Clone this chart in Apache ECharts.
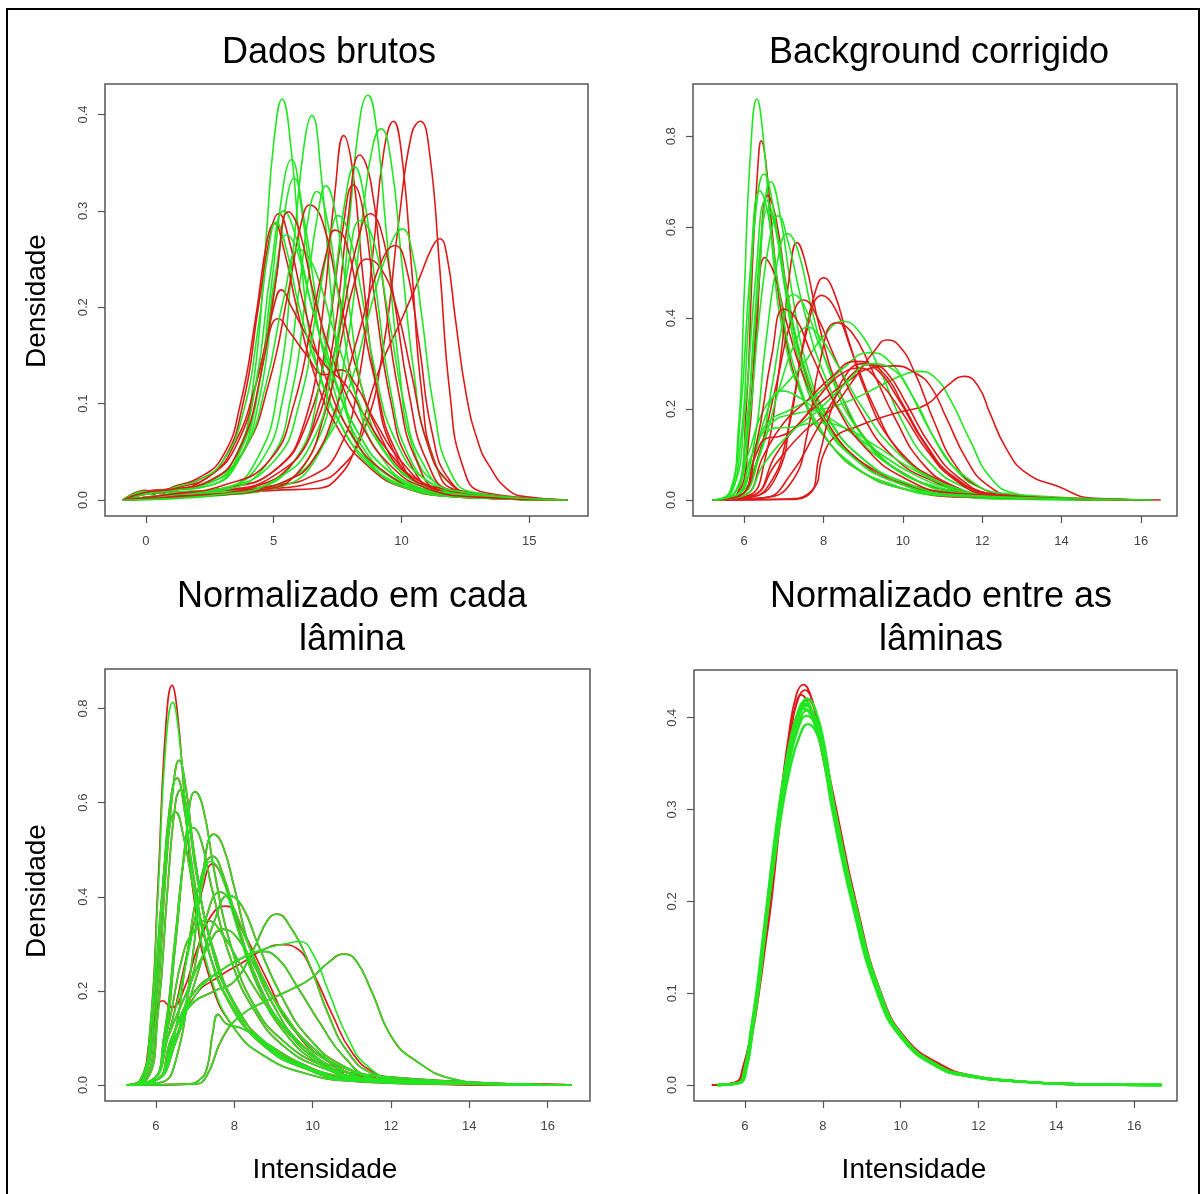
<!DOCTYPE html>
<html>
<head>
<meta charset="utf-8">
<script src="https://cdn.jsdelivr.net/npm/echarts@6/dist/echarts.min.js"></script>
<style>
html,body{margin:0;padding:0;background:#fff;}
#c{width:1203px;height:1194px;}
</style>
</head>
<body>
<div id="c"></div>
<script>
// ---------- DATA ----------
const panelTitles = ["Dados brutos", "Background corrigido", "Normalizado em cada\nlâmina", "Normalizado entre as\nlâminas"];
const yAxisName = "Densidade";
const xAxisName = "Intensidade";

const p1XTicks = [0, 5, 10, 15];
const p1YTicks = [0, 0.1, 0.2, 0.3, 0.4];
const p2XTicks = [6, 8, 10, 12, 14, 16];
const p2YTicks = [0, 0.2, 0.4, 0.6, 0.8];
const p3XTicks = [6, 8, 10, 12, 14, 16];
const p3YTicks = [0, 0.2, 0.4, 0.6, 0.8];
const p4XTicks = [6, 8, 10, 12, 14, 16];
const p4YTicks = [0, 0.1, 0.2, 0.3, 0.4];

// Panel 1: Dados brutos
const p1Red = [
 [[-0.9,0],[0,0.006],[1,0.008],[3,0.01],[5,0.012],[6.5,0.018],[7.5,0.03],[8.5,0.07],[9.3,0.16],[9.9,0.29],[10.4,0.38],[10.74,0.393],[11.1,0.36],[11.5,0.24],[11.9,0.11],[12.4,0.035],[13.2,0.008],[16.5,0]],
 [[-0.9,0],[1,0.005],[3,0.01],[5,0.015],[6.5,0.025],[7.5,0.05],[8.3,0.12],[8.9,0.26],[9.3,0.36],[9.69,0.393],[10,0.36],[10.4,0.24],[10.8,0.11],[11.3,0.04],[12.2,0.01],[16.5,0]],
 [[-0.9,0],[1,0.006],[3,0.012],[5,0.03],[6.2,0.08],[6.9,0.19],[7.4,0.32],[7.74,0.378],[8.1,0.34],[8.5,0.23],[9,0.12],[9.7,0.05],[10.8,0.015],[12.5,0.003],[16.5,0]],
 [[-0.9,0],[1,0.006],[3,0.01],[5,0.025],[6.5,0.07],[7.3,0.16],[7.9,0.29],[8.37,0.358],[8.8,0.33],[9.3,0.22],[9.9,0.11],[10.6,0.04],[11.6,0.01],[16.5,0]],
 [[-0.9,0],[1,0.004],[3,0.006],[5,0.01],[6.7,0.012],[7.5,0.023],[8.2,0.054],[8.7,0.1],[9.2,0.14],[10,0.187],[10.7,0.23],[11.2,0.262],[11.5,0.271],[11.8,0.25],[12.1,0.19],[12.55,0.107],[13,0.06],[13.4,0.037],[14.2,0.01],[15,0.003],[16.5,0]],
 [[-0.9,0],[1,0.006],[3,0.012],[5,0.03],[6.3,0.08],[7.1,0.17],[7.7,0.28],[8.12,0.327],[8.5,0.3],[9,0.2],[9.6,0.1],[10.3,0.04],[11.5,0.01],[16.5,0]],
 [[-0.9,0],[0,0.008],[1,0.01],[2.5,0.02],[3.8,0.05],[4.8,0.12],[5.6,0.22],[6.1,0.29],[6.42,0.306],[6.9,0.29],[7.5,0.22],[8.3,0.13],[9.2,0.065],[10.3,0.025],[12,0.006],[16.5,0]],
 [[-0.9,0],[0,0.01],[0.5,0.004],[1,0.013],[2,0.022],[3,0.045],[3.7,0.1],[4.3,0.19],[4.75,0.27],[5.02,0.287],[5.4,0.26],[5.9,0.2],[6.6,0.13],[7.5,0.075],[8.7,0.035],[10.2,0.012],[12.5,0.003],[16.5,0]],
 [[-0.9,0],[0,0.009],[1,0.012],[2,0.02],[3,0.04],[3.8,0.1],[4.4,0.2],[4.9,0.28],[5.19,0.297],[5.6,0.27],[6.2,0.2],[7,0.13],[8,0.07],[9.3,0.03],[11,0.01],[13,0.002],[16.5,0]],
 [[-0.9,0],[0,0.008],[1,0.01],[2.5,0.025],[3.6,0.06],[4.4,0.13],[5,0.2],[5.3,0.218],[5.7,0.2],[6.3,0.17],[7,0.14],[7.8,0.12],[8.5,0.09],[9.5,0.05],[10.8,0.018],[12.5,0.004],[16.5,0]],
 [[-0.9,0],[0,0.008],[1,0.012],[2.5,0.025],[3.5,0.06],[4.3,0.12],[4.9,0.18],[5.16,0.188],[5.6,0.175],[6.3,0.15],[7,0.13],[7.6,0.135],[8.2,0.12],[9,0.08],[10,0.04],[11.2,0.013],[13,0.003],[16.5,0]],
 [[-0.9,0],[2,0.005],[4,0.012],[5.8,0.04],[6.8,0.1],[7.6,0.18],[8.3,0.27],[8.79,0.297],[9.2,0.28],[9.7,0.21],[10.3,0.11],[11,0.04],[12,0.01],[16.5,0]],
 [[-0.9,0],[2,0.004],[4,0.01],[5.5,0.02],[6.5,0.04],[7.5,0.1],[8.3,0.17],[9.1,0.24],[9.76,0.264],[10.2,0.24],[10.7,0.16],[11.2,0.07],[11.9,0.02],[13,0.005],[16.5,0]],
 [[-0.9,0],[2,0.004],[4.5,0.01],[6,0.03],[7,0.09],[7.6,0.16],[8.1,0.22],[8.65,0.25],[9.2,0.24],[9.8,0.2],[10.4,0.13],[11,0.06],[11.8,0.02],[13,0.005],[16.5,0]],
 [[-0.9,0],[1,0.006],[3,0.015],[4.8,0.04],[5.8,0.1],[6.6,0.2],[7.1,0.26],[7.4,0.28],[7.8,0.27],[8.3,0.21],[9,0.12],[9.8,0.05],[11,0.015],[16.5,0]],
 [[-0.9,0],[0,0.008],[1,0.011],[2.5,0.02],[3.6,0.05],[4.5,0.13],[5.1,0.23],[5.58,0.299],[6,0.28],[6.6,0.21],[7.4,0.14],[8.4,0.08],[9.6,0.035],[11,0.012],[13,0.003],[16.5,0]]
];
const p1Green = [
 [[-0.9,0],[0,0.008],[1,0.01],[2.5,0.015],[3.5,0.04],[4.2,0.12],[4.7,0.27],[5,0.37],[5.33,0.416],[5.7,0.36],[6.1,0.24],[6.6,0.15],[7.5,0.085],[8.5,0.045],[10,0.015],[12,0.004],[16.5,0]],
 [[-0.9,0],[0,0.006],[1,0.008],[3,0.012],[4.3,0.04],[5.2,0.12],[5.8,0.27],[6.2,0.37],[6.49,0.399],[6.85,0.34],[7.3,0.2],[7.8,0.1],[8.6,0.045],[10,0.015],[12,0.004],[16.5,0]],
 [[-0.9,0],[1,0.005],[3,0.008],[5,0.015],[6.5,0.05],[7.4,0.14],[8,0.3],[8.4,0.4],[8.69,0.42],[9,0.39],[9.4,0.28],[9.9,0.14],[10.5,0.05],[11.5,0.015],[13,0.004],[16.5,0]],
 [[-0.9,0],[2,0.004],[5,0.012],[6.8,0.05],[7.8,0.15],[8.5,0.3],[8.9,0.37],[9.2,0.385],[9.6,0.35],[10,0.25],[10.5,0.13],[11,0.06],[12,0.015],[13.5,0.003],[16.5,0]],
 [[-0.9,0],[0,0.008],[1,0.01],[2.5,0.015],[3.5,0.035],[4.3,0.1],[4.9,0.22],[5.4,0.33],[5.69,0.353],[6.1,0.3],[6.6,0.2],[7.3,0.12],[8.2,0.06],[9.5,0.025],[11,0.008],[13,0.002],[16.5,0]],
 [[-0.9,0],[0,0.008],[1,0.011],[2.5,0.018],[3.6,0.04],[4.4,0.1],[5,0.21],[5.5,0.31],[5.79,0.334],[6.2,0.29],[6.8,0.19],[7.6,0.11],[8.6,0.05],[10,0.018],[12,0.005],[16.5,0]],
 [[-0.9,0],[1,0.006],[3,0.012],[4.5,0.04],[5.4,0.11],[6,0.22],[6.4,0.3],[6.69,0.32],[7.1,0.29],[7.6,0.2],[8.3,0.1],[9.2,0.045],[10.5,0.015],[12.5,0.004],[16.5,0]],
 [[-0.9,0],[1,0.005],[3,0.01],[4.8,0.04],[5.7,0.11],[6.3,0.22],[6.75,0.3],[7.04,0.326],[7.4,0.3],[7.9,0.21],[8.6,0.1],[9.5,0.045],[10.8,0.015],[12.5,0.004],[16.5,0]],
 [[-0.9,0],[2,0.004],[4,0.01],[5.8,0.04],[6.8,0.12],[7.4,0.23],[7.85,0.32],[8.16,0.346],[8.5,0.32],[9,0.22],[9.6,0.11],[10.3,0.045],[11.3,0.015],[13,0.003],[16.5,0]],
 [[-0.9,0],[3,0.005],[5.5,0.02],[7,0.06],[8,0.12],[8.8,0.2],[9.5,0.26],[10.04,0.281],[10.4,0.26],[10.8,0.19],[11.3,0.09],[11.9,0.03],[12.8,0.008],[16.5,0]],
 [[-0.9,0],[1,0.006],[3,0.012],[5,0.04],[6,0.1],[6.7,0.2],[7.2,0.27],[7.53,0.295],[7.9,0.28],[8.4,0.22],[9,0.13],[9.8,0.06],[11,0.02],[13,0.004],[16.5,0]],
 [[-0.9,0],[0,0.009],[0.5,0.003],[1,0.012],[2,0.02],[3,0.04],[3.8,0.09],[4.4,0.18],[4.8,0.26],[5.09,0.288],[5.5,0.26],[6,0.2],[6.8,0.13],[7.8,0.07],[9,0.03],[10.5,0.01],[12.5,0.003],[16.5,0]],
 [[-0.9,0],[0,0.008],[1,0.01],[2.5,0.02],[3.5,0.045],[4.3,0.12],[4.9,0.24],[5.4,0.3],[5.9,0.27],[6.5,0.2],[7.3,0.13],[8.3,0.07],[9.5,0.03],[11,0.01],[13,0.002],[16.5,0]],
 [[-0.9,0],[0,0.007],[1,0.01],[2.5,0.02],[3.8,0.05],[4.7,0.12],[5.4,0.21],[6,0.26],[6.6,0.24],[7.3,0.18],[8.2,0.11],[9.2,0.055],[10.5,0.02],[12,0.006],[16.5,0]],
 [[-0.9,0],[0,0.008],[1,0.011],[2.5,0.018],[3.6,0.045],[4.5,0.13],[5.1,0.24],[5.5,0.275],[5.9,0.26],[6.5,0.2],[7.3,0.13],[8.3,0.07],[9.5,0.03],[11,0.01],[16.5,0]],
 [[-0.9,0],[3,0.006],[5,0.02],[6.5,0.06],[7.3,0.14],[7.9,0.24],[8.4,0.29],[8.9,0.27],[9.5,0.19],[10.1,0.1],[10.8,0.04],[12,0.01],[16.5,0]]
];

// Panel 2: Background corrigido
const p2Red = [
 [[5.2,0],[5.8,0.01],[6.05,0.2],[6.2,0.5],[6.35,0.74],[6.43,0.79],[6.55,0.74],[6.75,0.55],[7,0.38],[7.5,0.22],[8.2,0.12],[9,0.06],[10,0.025],[11.5,0.006],[16.3,0]],
 [[5.2,0],[5.8,0.01],[6.1,0.15],[6.35,0.45],[6.6,0.67],[6.8,0.62],[7.1,0.45],[7.5,0.29],[8.1,0.17],[9,0.08],[10,0.035],[11.5,0.01],[16.3,0]],
 [[5.2,0],[5.85,0.01],[6.1,0.12],[6.3,0.35],[6.52,0.533],[6.75,0.5],[7.1,0.38],[7.6,0.25],[8.3,0.14],[9.2,0.07],[10.3,0.03],[12,0.006],[16.3,0]],
 [[5.2,0],[6.1,0.01],[6.5,0.08],[6.9,0.3],[7.15,0.5],[7.33,0.566],[7.55,0.52],[7.9,0.38],[8.4,0.24],[9.1,0.13],[10,0.06],[11.2,0.02],[13,0.004],[16.3,0]],
 [[5.2,0],[6,0.005],[6.6,0.03],[7.1,0.15],[7.5,0.35],[7.8,0.46],[8,0.489],[8.25,0.46],[8.6,0.36],[9.1,0.23],[9.7,0.13],[10.5,0.06],[11.5,0.02],[13,0.005],[16.3,0]],
 [[5.2,0],[6.1,0.005],[6.8,0.05],[7.2,0.2],[7.6,0.38],[7.96,0.45],[8.3,0.42],[8.7,0.33],[9.3,0.2],[10,0.1],[11,0.04],[12,0.012],[16.3,0]],
 [[5.2,0],[5.9,0.01],[6.3,0.08],[6.8,0.25],[7.2,0.4],[7.5,0.44],[7.8,0.41],[8.3,0.31],[8.9,0.2],[9.7,0.1],[10.8,0.04],[12,0.01],[16.3,0]],
 [[5.2,0],[6.5,0.005],[7.2,0.04],[7.6,0.15],[7.9,0.3],[8.32,0.39],[8.7,0.37],[9.2,0.29],[9.8,0.18],[10.5,0.08],[11.3,0.03],[12.3,0.008],[16.3,0]],
 [[5.2,0],[6.2,0.01],[6.8,0.08],[7.5,0.15],[8.2,0.2],[8.8,0.27],[9.3,0.33],[9.6,0.352],[9.9,0.34],[10.3,0.28],[10.8,0.17],[11.3,0.08],[11.9,0.03],[12.8,0.008],[16.3,0]],
 [[5.2,0],[6,0.01],[6.5,0.1],[7,0.17],[7.6,0.22],[8.2,0.27],[8.8,0.305],[9.3,0.29],[9.9,0.22],[10.5,0.13],[11.2,0.055],[12,0.018],[13,0.004],[16.3,0]],
 [[5.2,0],[6.2,0.01],[6.8,0.1],[7.4,0.17],[8,0.22],[8.6,0.26],[9.2,0.29],[9.8,0.295],[10.3,0.28],[10.7,0.25],[11.1,0.18],[11.6,0.09],[12.1,0.035],[12.8,0.01],[16.3,0]],
 [[5.2,0],[7,0.002],[7.7,0.02],[8,0.1],[8.3,0.14],[8.8,0.16],[9.4,0.18],[10,0.195],[10.6,0.21],[11.1,0.25],[11.56,0.272],[11.9,0.25],[12.2,0.19],[12.6,0.114],[13.1,0.06],[13.9,0.03],[14.8,0.004],[16.5,0]],
 [[5.2,0],[6.5,0.005],[7.2,0.06],[7.8,0.15],[8.4,0.24],[8.9,0.29],[9.2,0.298],[9.6,0.28],[10.1,0.21],[10.7,0.12],[11.4,0.05],[12.3,0.013],[16.3,0]],
 [[5.2,0],[7,0.001],[7.6,0.01],[7.9,0.1],[8.2,0.2],[8.6,0.28],[9,0.3],[9.5,0.28],[10,0.21],[10.6,0.12],[11.3,0.05],[12.3,0.012],[16.3,0]],
 [[5.2,0],[5.9,0.01],[6.3,0.1],[6.57,0.136],[6.9,0.14],[7.4,0.17],[8,0.24],[8.5,0.28],[8.9,0.29],[9.4,0.26],[10,0.19],[10.6,0.11],[11.3,0.045],[12.2,0.012],[16.3,0]],
 [[5.2,0],[5.9,0.01],[6.3,0.12],[6.7,0.32],[7,0.42],[7.3,0.4],[7.7,0.32],[8.3,0.21],[9,0.12],[10,0.05],[11.3,0.015],[16.3,0]]
];
const p2Green = [
 [[5.2,0],[5.6,0.01],[5.85,0.15],[6,0.45],[6.15,0.75],[6.32,0.882],[6.5,0.78],[6.7,0.56],[7,0.36],[7.5,0.22],[8.2,0.12],[9,0.06],[10,0.025],[11.5,0.007],[13,0.002],[16.3,0]],
 [[5.2,0],[5.6,0.01],[5.9,0.12],[6.1,0.38],[6.3,0.64],[6.5,0.717],[6.7,0.66],[7,0.48],[7.4,0.3],[8,0.17],[8.8,0.09],[9.8,0.04],[11,0.012],[13,0.002],[16.3,0]],
 [[5.2,0],[5.7,0.01],[6,0.1],[6.25,0.38],[6.5,0.64],[6.67,0.7],[6.9,0.63],[7.2,0.46],[7.6,0.29],[8.2,0.17],[9,0.09],[10,0.04],[11.5,0.01],[16.3,0]],
 [[5.2,0],[5.7,0.02],[6,0.18],[6.3,0.5],[6.55,0.66],[6.8,0.6],[7.1,0.45],[7.5,0.3],[8.1,0.18],[9,0.09],[10,0.04],[11.5,0.01],[16.3,0]],
 [[5.2,0],[5.8,0.01],[6.2,0.1],[6.55,0.35],[6.85,0.53],[7.09,0.586],[7.35,0.55],[7.7,0.42],[8.2,0.27],[8.9,0.15],[9.8,0.07],[11,0.025],[12.5,0.005],[16.3,0]],
 [[5.2,0],[5.8,0.01],[6.3,0.08],[6.7,0.25],[7,0.4],[7.24,0.452],[7.5,0.43],[7.9,0.34],[8.5,0.22],[9.2,0.12],[10.2,0.05],[11.5,0.015],[16.3,0]],
 [[5.2,0],[5.7,0.01],[6.1,0.1],[6.5,0.2],[7,0.25],[7.5,0.3],[8,0.36],[8.5,0.393],[8.9,0.37],[9.4,0.29],[10,0.17],[10.7,0.08],[11.5,0.03],[12.5,0.008],[16.3,0]],
 [[5.2,0],[5.8,0.01],[6.2,0.1],[6.6,0.17],[7.2,0.2],[7.8,0.23],[8.5,0.29],[9.15,0.324],[9.6,0.31],[10.1,0.25],[10.7,0.15],[11.3,0.07],[12,0.025],[13,0.006],[16.3,0]],
 [[5.2,0],[5.8,0.01],[6.2,0.1],[6.7,0.17],[7.3,0.19],[8,0.2],[8.7,0.22],[9.4,0.25],[10,0.275],[10.4,0.283],[10.8,0.27],[11.2,0.22],[11.7,0.13],[12.2,0.05],[12.8,0.015],[14,0.003],[16.3,0]],
 [[5.2,0],[5.8,0.01],[6.2,0.08],[6.6,0.2],[6.93,0.24],[7.3,0.23],[7.8,0.2],[8.5,0.16],[9.3,0.11],[10.2,0.06],[11.2,0.025],[12.5,0.006],[16.3,0]],
 [[5.2,0],[5.9,0.01],[6.3,0.08],[6.76,0.158],[7.2,0.16],[7.8,0.17],[8.5,0.16],[9.3,0.12],[10.2,0.07],[11.2,0.03],[12.5,0.008],[16.3,0]],
 [[5.2,0],[5.65,0.02],[5.9,0.18],[6.15,0.5],[6.4,0.68],[6.6,0.63],[6.9,0.45],[7.3,0.28],[7.9,0.16],[8.7,0.08],[9.7,0.035],[11,0.01],[16.3,0]],
 [[5.2,0],[5.8,0.02],[6.1,0.15],[6.4,0.42],[6.7,0.6],[6.85,0.625],[7.1,0.57],[7.5,0.42],[8,0.28],[8.7,0.16],[9.6,0.08],[10.8,0.03],[12.5,0.006],[16.3,0]],
 [[5.2,0],[5.9,0.01],[6.4,0.1],[6.9,0.25],[7.3,0.35],[7.6,0.38],[7.9,0.36],[8.4,0.29],[9,0.2],[9.8,0.11],[10.8,0.045],[12,0.012],[16.3,0]],
 [[5.2,0],[6,0.01],[6.5,0.08],[7.2,0.15],[7.9,0.2],[8.6,0.26],[9.2,0.3],[9.7,0.29],[10.3,0.22],[10.9,0.12],[11.6,0.05],[12.5,0.015],[16.3,0]],
 [[5.2,0],[5.75,0.015],[6.05,0.16],[6.35,0.46],[6.6,0.64],[6.78,0.6],[7.05,0.46],[7.45,0.3],[8,0.18],[8.8,0.09],[9.8,0.04],[11.2,0.012],[16.3,0]]
];

// Panel 3: Normalizado em cada lâmina (red and green curves nearly coincide)
const p3Shared = [
 [[5.25,0],[5.7,0.01],[6,0.15],[6.25,0.45],[6.45,0.64],[6.59,0.69],[6.75,0.64],[7,0.48],[7.4,0.3],[8,0.17],[8.8,0.09],[9.8,0.04],[11,0.012],[16.6,0]],
 [[5.25,0],[5.65,0.01],[5.95,0.15],[6.2,0.45],[6.4,0.62],[6.54,0.652],[6.7,0.6],[6.95,0.45],[7.3,0.3],[7.9,0.17],[8.7,0.09],[9.7,0.04],[11,0.012],[16.6,0]],
 [[5.25,0],[5.65,0.01],[5.9,0.15],[6.15,0.4],[6.35,0.55],[6.5,0.58],[6.7,0.53],[7,0.4],[7.4,0.27],[8,0.16],[8.8,0.08],[9.8,0.035],[11,0.01],[16.6,0]],
 [[5.25,0],[5.75,0.01],[6.05,0.15],[6.3,0.42],[6.5,0.6],[6.63,0.627],[6.8,0.58],[7.05,0.44],[7.5,0.28],[8.1,0.16],[8.9,0.08],[9.9,0.035],[11.2,0.01],[16.6,0]],
 [[5.25,0],[5.9,0.01],[6.2,0.08],[6.5,0.3],[6.8,0.55],[7,0.623],[7.2,0.59],[7.5,0.45],[7.9,0.3],[8.5,0.17],[9.3,0.09],[10.3,0.04],[11.5,0.012],[16.6,0]],
 [[5.25,0],[5.9,0.01],[6.2,0.1],[6.5,0.32],[6.75,0.5],[6.95,0.547],[7.15,0.52],[7.45,0.41],[7.9,0.27],[8.5,0.16],[9.3,0.08],[10.3,0.035],[11.5,0.01],[16.6,0]],
 [[5.25,0],[6.1,0.005],[6.5,0.05],[6.9,0.25],[7.2,0.45],[7.48,0.533],[7.7,0.51],[8,0.42],[8.4,0.29],[9,0.17],[9.8,0.08],[10.8,0.03],[12,0.008],[16.6,0]],
 [[5.25,0],[6,0.01],[6.4,0.08],[6.8,0.28],[7.15,0.44],[7.45,0.486],[7.7,0.45],[8.1,0.34],[8.6,0.22],[9.3,0.12],[10.2,0.05],[11.3,0.015],[16.6,0]],
 [[5.25,0],[6,0.01],[6.4,0.07],[6.9,0.22],[7.3,0.36],[7.64,0.41],[7.9,0.39],[8.3,0.31],[8.9,0.2],[9.6,0.11],[10.5,0.045],[11.6,0.012],[16.6,0]],
 [[5.25,0],[6,0.01],[6.5,0.09],[7,0.22],[7.5,0.35],[7.86,0.403],[8.2,0.38],[8.6,0.3],[9.2,0.19],[9.9,0.1],[10.8,0.04],[12,0.01],[16.6,0]],
 [[5.25,0],[6,0.01],[6.4,0.1],[6.9,0.17],[7.5,0.2],[8,0.22],[8.5,0.29],[8.85,0.35],[9.09,0.363],[9.4,0.34],[9.9,0.26],[10.4,0.15],[10.9,0.07],[11.5,0.025],[12.5,0.006],[16.6,0]],
 [[5.25,0],[5.9,0.01],[6.3,0.1],[6.8,0.2],[7.3,0.29],[7.72,0.331],[8.1,0.31],[8.6,0.24],[9.2,0.16],[10,0.08],[11,0.03],[12.3,0.008],[16.6,0]],
 [[5.25,0],[7,0.002],[7.3,0.02],[7.7,0.1],[8.2,0.15],[8.86,0.18],[9.5,0.205],[9.95,0.226],[10.4,0.26],[10.8,0.278],[11.1,0.265],[11.5,0.2],[12.03,0.1],[12.66,0.05],[13.57,0.013],[14.8,0.001],[16.6,0]],
 [[5.25,0],[6.8,0.002],[7.1,0.01],[7.3,0.035],[7.45,0.11],[7.59,0.15],[7.8,0.13],[8.2,0.12],[8.8,0.09],[9.6,0.05],[10.6,0.02],[12,0.005],[16.6,0]],
 [[5.25,0],[5.9,0.01],[6.3,0.12],[6.7,0.28],[7,0.33],[7.3,0.35],[7.7,0.32],[8.2,0.25],[8.9,0.16],[9.8,0.08],[11,0.025],[16.6,0]],
 [[5.25,0],[6,0.01],[6.5,0.12],[7,0.2],[7.6,0.24],[8.2,0.27],[8.67,0.284],[9.1,0.27],[9.6,0.21],[10.2,0.13],[10.8,0.06],[11.5,0.02],[16.6,0]]
];
const p3RedOnly = [
 [[5.25,0],[5.6,0.01],[5.85,0.12],[6.05,0.42],[6.25,0.76],[6.41,0.849],[6.55,0.79],[6.75,0.59],[7,0.38],[7.4,0.22],[8,0.12],[8.8,0.06],[9.8,0.025],[11,0.008],[13,0.002],[14.8,0]],
 [[5.25,0],[6,0.01],[6.5,0.1],[7,0.19],[7.6,0.23],[8.2,0.26],[8.8,0.29],[9.22,0.298],[9.6,0.29],[10,0.24],[10.5,0.15],[11,0.07],[11.6,0.025],[12.5,0.006],[14.8,0]],
 [[5.25,0],[5.6,0.01],[5.9,0.12],[6.18,0.179],[6.4,0.165],[6.7,0.2],[7.1,0.3],[7.5,0.37],[7.8,0.38],[8.2,0.33],[8.8,0.23],[9.5,0.12],[10.4,0.05],[11.5,0.015],[14.8,0]],
 [[5.25,0],[5.9,0.01],[6.3,0.1],[6.8,0.28],[7.2,0.42],[7.45,0.47],[7.7,0.44],[8.1,0.33],[8.6,0.21],[9.3,0.11],[10.2,0.045],[11.3,0.012],[14.8,0]]
];
const p3GreenOnly = [
 [[5.25,0],[5.6,0.01],[5.85,0.12],[6.05,0.4],[6.25,0.72],[6.43,0.813],[6.58,0.75],[6.78,0.57],[7,0.39],[7.4,0.23],[8,0.12],[8.8,0.06],[9.8,0.025],[11,0.008],[13,0.002],[16.6,0]],
 [[5.25,0],[6,0.01],[6.5,0.1],[7,0.19],[7.6,0.24],[8.2,0.27],[8.8,0.29],[9.3,0.3],[9.67,0.305],[10,0.28],[10.4,0.2],[10.9,0.1],[11.4,0.04],[12.2,0.01],[16.6,0]],
 [[5.25,0],[5.9,0.01],[6.3,0.1],[6.8,0.27],[7.15,0.41],[7.4,0.475],[7.65,0.45],[8.05,0.34],[8.55,0.22],[9.25,0.115],[10.2,0.045],[11.3,0.012],[16.6,0]]
];

// Panel 4: Normalizado entre as lâminas
const p4Red = [
 [[5.15,0],[5.75,0.003],[5.95,0.02],[6.15,0.055],[6.32,0.1],[6.48,0.15],[6.63,0.2],[6.88,0.3],[7.12,0.38],[7.32,0.425],[7.5,0.436],[7.68,0.425],[7.88,0.39],[8.1,0.34],[8.3,0.295],[8.8,0.2],[9.45,0.1],[10.1,0.05],[11,0.022],[11.7,0.011],[13,0.004],[15,0]],
 [[5.15,0],[5.78,0.003],[5.98,0.02],[6.17,0.055],[6.34,0.1],[6.5,0.15],[6.66,0.2],[6.92,0.3],[7.16,0.38],[7.36,0.42],[7.55,0.43],[7.72,0.42],[7.92,0.385],[8.12,0.34],[8.32,0.295],[8.82,0.2],[9.47,0.1],[10.1,0.05],[11,0.021],[11.7,0.01],[13,0.004],[15,0]],
 [[5.15,0],[5.76,0.003],[5.96,0.02],[6.16,0.058],[6.33,0.1],[6.49,0.15],[6.65,0.2],[6.9,0.3],[7.1,0.37],[7.28,0.41],[7.45,0.425],[7.62,0.415],[7.85,0.385],[8.08,0.34],[8.28,0.298],[8.78,0.2],[9.44,0.1],[10.08,0.05],[10.98,0.021],[11.7,0.01],[13,0.004],[15,0]],
 [[5.15,0],[5.8,0.003],[6,0.02],[6.19,0.055],[6.36,0.1],[6.52,0.15],[6.68,0.2],[6.94,0.3],[7.2,0.38],[7.4,0.41],[7.6,0.42],[7.78,0.41],[7.98,0.375],[8.18,0.335],[8.35,0.3],[8.85,0.2],[9.5,0.1],[10.15,0.05],[11.05,0.022],[11.75,0.011],[13,0.004],[14.9,0]]
];
const p4Green = [
 [[5.3,0],[5.82,0.002],[6.02,0.02],[6.17,0.06],[6.31,0.1],[6.45,0.15],[6.59,0.2],[6.85,0.29],[7.1,0.36],[7.35,0.405],[7.55,0.418],[7.75,0.405],[8,0.37],[8.27,0.3],[8.77,0.2],[9.43,0.1],[10.06,0.05],[10.95,0.02],[11.7,0.01],[13,0.004],[14.5,0.001],[16.7,0]],
 [[5.3,0],[5.84,0.002],[6.04,0.02],[6.19,0.06],[6.33,0.1],[6.47,0.15],[6.61,0.2],[6.88,0.29],[7.14,0.36],[7.4,0.405],[7.6,0.421],[7.8,0.41],[8.04,0.37],[8.3,0.3],[8.8,0.2],[9.46,0.1],[10.1,0.05],[10.98,0.02],[11.72,0.01],[13,0.004],[14.5,0.001],[16.7,0]],
 [[5.3,0],[5.8,0.002],[6,0.02],[6.15,0.06],[6.29,0.1],[6.43,0.15],[6.57,0.2],[6.83,0.29],[7.08,0.355],[7.32,0.395],[7.52,0.41],[7.72,0.4],[7.97,0.365],[8.24,0.3],[8.74,0.2],[9.4,0.1],[10.04,0.05],[10.93,0.02],[11.68,0.01],[13,0.004],[14.5,0.001],[16.7,0]],
 [[5.3,0],[5.83,0.002],[6.03,0.02],[6.18,0.06],[6.32,0.1],[6.46,0.15],[6.6,0.2],[6.87,0.29],[7.13,0.35],[7.38,0.39],[7.58,0.402],[7.78,0.395],[8.02,0.36],[8.29,0.3],[8.79,0.2],[9.45,0.1],[10.08,0.05],[10.97,0.02],[11.7,0.01],[13,0.004],[14.5,0.001],[16.7,0]],
 [[5.3,0],[5.85,0.002],[6.05,0.02],[6.2,0.06],[6.34,0.1],[6.48,0.15],[6.62,0.2],[6.9,0.285],[7.16,0.345],[7.42,0.382],[7.62,0.393],[7.82,0.385],[8.05,0.355],[8.31,0.3],[8.82,0.2],[9.48,0.1],[10.1,0.05],[11,0.02],[11.73,0.01],[13,0.004],[14.5,0.001],[16.7,0]],
 [[5.3,0],[5.81,0.002],[6.01,0.02],[6.16,0.06],[6.3,0.1],[6.44,0.15],[6.58,0.2],[6.84,0.29],[7.1,0.362],[7.34,0.402],[7.54,0.415],[7.74,0.405],[7.99,0.368],[8.26,0.3],[8.76,0.2],[9.42,0.1],[10.05,0.05],[10.94,0.02],[11.69,0.01],[13,0.004],[14.5,0.001],[16.7,0]],
 [[5.3,0],[5.84,0.002],[6.04,0.02],[6.19,0.06],[6.33,0.1],[6.47,0.15],[6.61,0.2],[6.88,0.288],[7.14,0.352],[7.39,0.395],[7.6,0.408],[7.8,0.4],[8.04,0.366],[8.3,0.302],[8.8,0.202],[9.46,0.102],[10.09,0.051],[10.98,0.021],[11.72,0.011],[13,0.004],[14.5,0.001],[16.7,0]],
 [[5.3,0],[5.82,0.002],[6.02,0.02],[6.17,0.06],[6.31,0.1],[6.45,0.15],[6.59,0.2],[6.86,0.29],[7.12,0.357],[7.37,0.4],[7.57,0.413],[7.77,0.403],[8.01,0.368],[8.28,0.3],[8.78,0.2],[9.44,0.1],[10.07,0.05],[10.96,0.02],[11.7,0.01],[13,0.004],[14.5,0.001],[16.7,0]]
];

// ---------- CHART ----------
const RED = '#dd1a1a';
const GREEN = '#22e622';
const FONT = '"Liberation Sans", Arial, Helvetica, sans-serif';

const grids = [
  {left: 105, top: 84, width: 483, height: 432},
  {left: 693, top: 84, width: 484, height: 432},
  {left: 105, top: 669, width: 485, height: 432},
  {left: 694, top: 670, width: 483, height: 431}
];
const xRanges = [[-1.6, 17.3], [4.71, 16.91], [4.70, 17.08], [4.69, 17.10]];
const yRanges = [[-0.0166, 0.4316], [-0.0352, 0.915], [-0.034, 0.884], [-0.0174, 0.452]];
const xTicks = [p1XTicks, p2XTicks, p3XTicks, p4XTicks];
const yTicks = [p1YTicks, p2YTicks, p3YTicks, p4YTicks];

const chart = echarts.init(document.getElementById('c'), null, {renderer: 'canvas'});

const option = {
  animation: false,
  backgroundColor: '#fff',
  grid: grids.map(g => Object.assign({show: true, borderColor: '#555', borderWidth: 1.5, backgroundColor: 'transparent', containLabel: false}, g)),
  xAxis: grids.map((g, i) => ({
    type: 'value', gridIndex: i, min: xRanges[i][0], max: xRanges[i][1], position: 'bottom',
    splitLine: {show: false},
    axisLine: {show: false, onZero: false},
    axisTick: {show: true, length: 7, lineStyle: {color: '#555', width: 1.2}, customValues: xTicks[i]},
    axisLabel: {customValues: xTicks[i], margin: 19, fontSize: 13, color: '#444', fontFamily: FONT,
      formatter: v => String(Math.round(v))}
  })),
  yAxis: grids.map((g, i) => ({
    type: 'value', gridIndex: i, min: yRanges[i][0], max: yRanges[i][1], position: 'left',
    splitLine: {show: false},
    axisLine: {show: false, onZero: false},
    axisTick: {show: true, length: 7, lineStyle: {color: '#555', width: 1.2}, customValues: yTicks[i]},
    axisLabel: {customValues: yTicks[i], rotate: 90, margin: 15, fontSize: 13, color: '#444', fontFamily: FONT,
      align: 'center', verticalAlign: 'bottom',
      formatter: v => Number(v).toFixed(1)}
  })),
  series: [],
  graphic: []
};

function addLine(idx, data, color, width) {
  option.series.push({
    type: 'line', xAxisIndex: idx, yAxisIndex: idx, data: data,
    smooth: 0.5, showSymbol: false, symbol: 'none', silent: true,
    lineStyle: {color: color, width: width}, emphasis: {disabled: true}
  });
}
function addInterleaved(idx, reds, greens, w) {
  const n = Math.max(reds.length, greens.length);
  for (let i = 0; i < n; i++) {
    if (reds[i]) addLine(idx, reds[i], RED, w);
    if (greens[i]) addLine(idx, greens[i], GREEN, w);
  }
}
addInterleaved(0, p1Red, p1Green, 1.6);
addInterleaved(1, p2Red, p2Green, 1.6);
// panel 3: red drawn under green
p3RedOnly.forEach(c => addLine(2, c, RED, 1.7));
p3Shared.forEach(c => addLine(2, c, RED, 1.8));
p3Shared.forEach(c => addLine(2, c, GREEN, 1.6));
p3GreenOnly.forEach(c => addLine(2, c, GREEN, 1.6));
// panel 4
p4Red.forEach(c => addLine(3, c, RED, 1.8));
p4Green.forEach(c => addLine(3, c, GREEN, 2.4));

// titles and axis names
const titlePos = [[329, 53], [939, 53], [352, 619], [941, 619]];
titlePos.forEach((p, i) => {
  option.graphic.push({type: 'text', x: p[0], y: p[1], silent: true,
    style: {text: panelTitles[i], fontSize: 36, fontFamily: FONT, fill: '#000', align: 'center', verticalAlign: 'middle', lineHeight: 43}});
});
[[37, 301], [37, 891]].forEach(p => {
  option.graphic.push({type: 'text', x: p[0], y: p[1], rotation: Math.PI / 2, silent: true,
    style: {text: yAxisName, fontSize: 28, fontFamily: FONT, fill: '#000', align: 'center', verticalAlign: 'middle'}});
});
[[325, 1170], [914, 1170]].forEach(p => {
  option.graphic.push({type: 'text', x: p[0], y: p[1], silent: true,
    style: {text: xAxisName, fontSize: 28, fontFamily: FONT, fill: '#000', align: 'center', verticalAlign: 'middle'}});
});
option.graphic.push({type: 'rect', silent: true, shape: {x: 7, y: 9, width: 1192, height: 1190},
  style: {fill: 'none', stroke: '#000', lineWidth: 2}});

chart.setOption(option);
</script>
</body>
</html>
